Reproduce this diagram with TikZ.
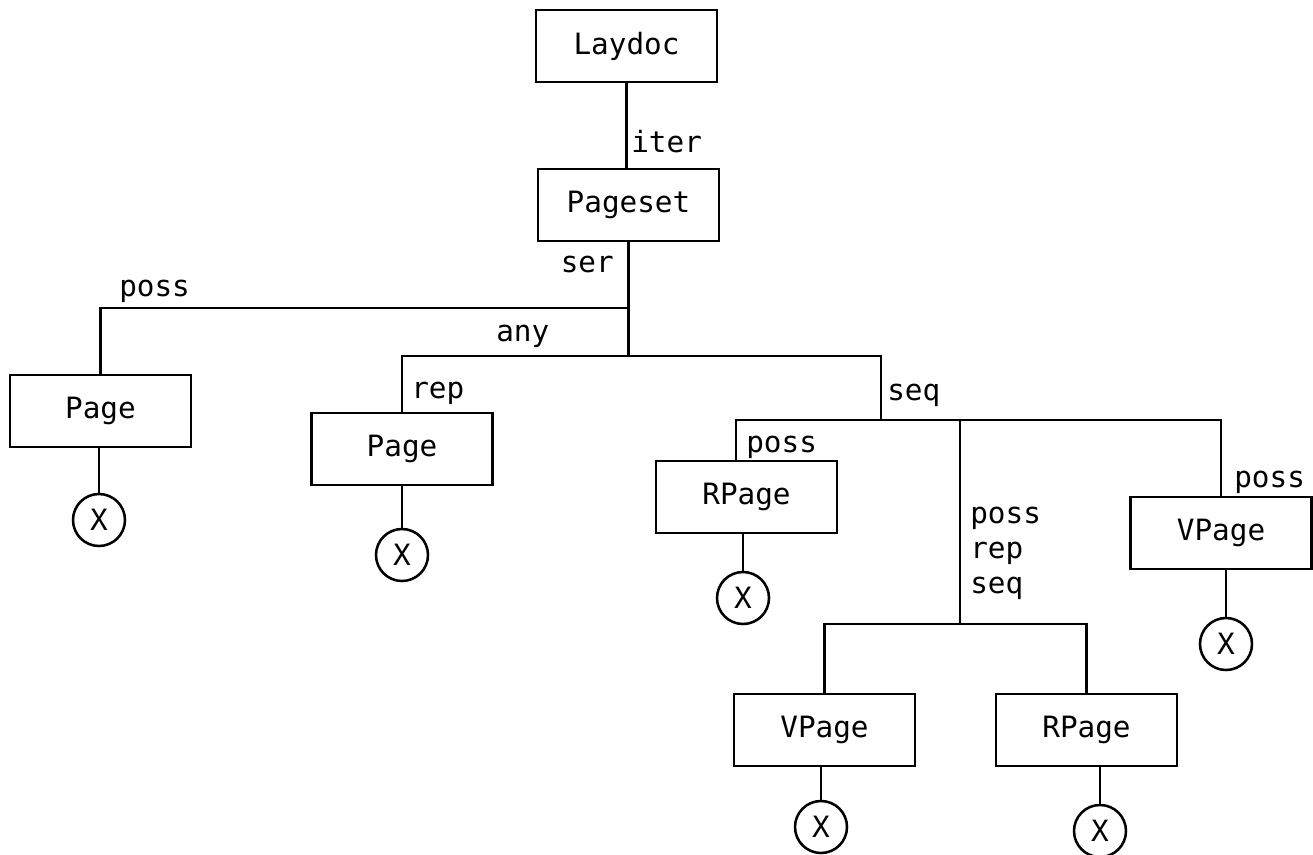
\documentclass[tikz,border=0pt]{standalone}
\usepackage{fontspec}
\setmonofont{DejaVu Sans Mono}
\begin{document}
\begin{tikzpicture}[x=0.75pt,y=-0.75pt,
  line width=1.9pt, line cap=rect,
  every node/.style={font=\ttfamily\fontsize{22}{26.25}\selectfont},
  box/.style={draw, rectangle, minimum width=181*0.75pt, minimum height=72*0.75pt, inner sep=0pt},
  leaf/.style={draw, circle, minimum size=52*0.75pt, inner sep=0pt},
  lbl/.style={anchor=base west, inner sep=0pt}]
\useasboundingbox (0,0) rectangle (1313,855);
% boxes
\node[box] (laydoc) at (626.5,46) {Laydoc};
\node[box] (pageset) at (628.5,205) {Pageset};
\node[box] (page1) at (100.5,411) {Page};
\node[box] (page2) at (402,449) {Page};
\node[box] (rpage1) at (746.5,497) {RPage};
\node[box] (vpage1) at (1221,533) {VPage};
\node[box] (vpage2) at (824.5,730) {VPage};
\node[box] (rpage2) at (1086.5,730) {RPage};
% leaves
\node[leaf] (x1) at (99,520) {X};
\node[leaf] (x2) at (402,555) {X};
\node[leaf] (x3) at (743,598) {X};
\node[leaf] (x4) at (1226,644) {X};
\node[leaf] (x5) at (821,827) {X};
\node[leaf] (x6) at (1100,831) {X};
% junctions
\coordinate (possJ) at (628.5,308);
\coordinate (anyJ) at (628.5,356);
\coordinate (seqJ) at (881,356);
\coordinate (seqB) at (881,420);
\coordinate (sL) at (736,420);
\coordinate (mJ) at (960,420);
\coordinate (mB) at (960,624);
% connectors
\draw (laydoc.south) -- (laydoc.south |- pageset.north);
\draw (pageset.south) -- (anyJ);
\draw (possJ) -| (page1.north);
\draw (page2.north) |- (seqJ) -- (seqB);
\draw (rpage1.north -| sL) -- (sL) -| (vpage1.north);
\draw (mJ) -- (mB);
\draw (vpage2.north) |- (mB) -| (rpage2.north);
\draw (x1.north) -- (x1.north |- page1.south);
\draw (x2.north) -- (x2.north |- page2.south);
\draw (x3.north) -- (x3.north |- rpage1.south);
\draw (x4.north) -- (x4.north |- vpage1.south);
\draw (x5.north) -- (x5.north |- vpage2.south);
\draw (x6.north) -- (x6.north |- rpage2.south);
% labels
\node[lbl] (lIter) at (630,153) {iter};
\node[lbl,anchor=base east] (lSer) at (615,273) {ser};
\node[lbl] (lPoss1) at (118,297) {poss};
\node[lbl] (lAny) at (495,342) {any};
\node[lbl] (lRep) at (410,398) {rep};
\node[lbl] (lSeq) at (886,400) {seq};
\node[lbl] (lPoss2) at (745,452) {poss};
\node[lbl,align=left] (lPRS) at (969,593) {poss\\rep\\seq};
\node[lbl] (lPoss3) at (1233,487) {poss};
\end{tikzpicture}
\end{document}
